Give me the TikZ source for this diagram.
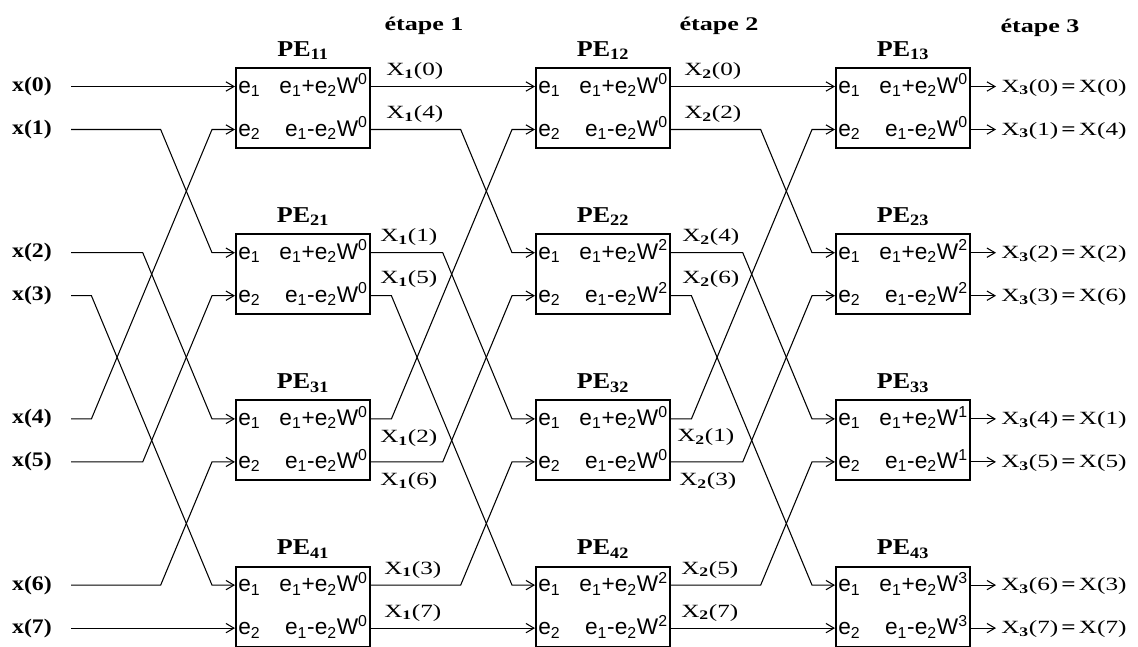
\documentclass[tikz,border=0pt]{standalone}
\usepackage{fontspec}
\setmainfont{Liberation Serif}
\newfontfamily\boxfont{Liberation Sans}
\newfontfamily\widefont[FakeStretch=1.35]{Liberation Serif}
\newfontfamily\midfont[FakeStretch=1.15]{Liberation Serif}
\usetikzlibrary{arrows.meta, positioning, calc}

\tikzset{
  pebox/.style={draw, line width=1.5pt, minimum width=100.5pt, minimum height=60pt, inner sep=0pt},
  wire/.style={line width=0.8pt},
  pelbl/.style={font=\fontsize{17}{17}\midfont\bfseries, inner sep=0pt, anchor=base},
  xlbl/.style={font=\fontsize{15.5}{16}\midfont\bfseries, inner sep=0pt, anchor=base east},
  Xlbl/.style={font=\fontsize{14}{15}\widefont, inner sep=0pt, anchor=base west},
  stagelbl/.style={font=\fontsize{14.5}{15}\widefont\bfseries, inner sep=0pt, anchor=base},
  etext/.style={font=\fontsize{17}{17}\boxfont, inner sep=0pt}
}

\begin{document}
\begin{tikzpicture}[x=0.75pt, y=-0.75pt, >={Straight Barb[length=6pt, width=7pt]}]

\useasboundingbox (0,0) rectangle (1138,646);
\clip (0,0) rectangle (1138,646);

% Stage titles
\node[stagelbl] (et1) at (424,31) {étape 1};
\node[stagelbl] (et2) at (719,31) {étape 2};
\node[stagelbl] (et3) at (1040,32) {étape 3};

% PE boxes with their ports
\foreach \s/\k/\w in {1/1/0, 1/2/0, 1/3/0, 1/4/0,
                      2/1/0, 2/2/2, 2/3/0, 2/4/2,
                      3/1/0, 3/2/2, 3/3/1, 3/4/3} {
  \pgfmathtruncatemacro\ra{2*\k-2}
  \pgfmathtruncatemacro\rb{2*\k-1}
  \node[pebox] (pe\k\s) at (303+300*\s-300, 108+166.2*\k-166.2) {};
  \node[pelbl] (pl\k\s) at ([yshift=8pt]pe\k\s.north) {PE\textsubscript{\k\s}};
  \coordinate (a\s\ra) at ($(pe\k\s.west)+(0,-21.5)$);
  \coordinate (a\s\rb) at ($(pe\k\s.west)+(0,21.5)$);
  \coordinate (b\s\ra) at ($(pe\k\s.east)+(0,-21.5)$);
  \coordinate (b\s\rb) at ($(pe\k\s.east)+(0,21.5)$);
  \node[etext, anchor=base west] (l\s\ra) at ($(a\s\ra)+(3,6.5)$) {e\textsubscript{1}};
  \node[etext, anchor=base west] (l\s\rb) at ($(a\s\rb)+(3,6.5)$) {e\textsubscript{2}};
  \node[etext, anchor=base east] (r\s\ra) at ($(b\s\ra)+(-3,6.5)$)
    {e\textsubscript{1}+e\textsubscript{2}W\textsuperscript{\w}};
  \node[etext, anchor=base east] (r\s\rb) at ($(b\s\rb)+(-3,6.5)$)
    {e\textsubscript{1}-e\textsubscript{2}W\textsuperscript{\w}};
}

% Inputs
\foreach \r in {0,...,7} {
  \coordinate (s0\r) at ($(a1\r)+(-164,0)$);
  \node[xlbl] (x\r) at ($(a1\r)+(-183,5)$) {x(\r)};
}

% Butterfly wiring between stages
\foreach \t/\src in {1/s0, 2/b1, 3/b2} {
  \foreach \d/\o in {0/0, 1/4, 2/1, 3/5, 4/2, 5/6, 6/3, 7/7} {
    \draw[wire, ->] let \p1=(\src\o), \p2=(a\t\d) in
      (\p1) -- ({\x2-17.25pt-abs(\y2-\y1)/2.4},\y1) -- ({\x2-17.25pt},\y2) -- (\p2);
  }
}

% Intermediate results
\foreach \r/\k/\dx/\dy in {0/0/15/-11, 1/4/15/-11, 2/1/9/-11, 3/5/9/-12,
                           4/2/9/24, 5/6/9/24, 6/3/13/-11, 7/7/13/-11} {
  \node[Xlbl] (m1\r) at ($(b1\r)+(\dx,\dy)$) {X\textsubscript{\bfseries 1}(\k)};
}
\foreach \r/\k/\dx/\dy in {0/0/13/-11, 1/2/13/-11, 2/4/11/-11, 3/6/11/-12,
                           4/1/6/23, 5/3/8/24, 6/5/10/-11, 7/7/10/-11} {
  \node[Xlbl] (m2\r) at ($(b2\r)+(\dx,\dy)$) {X\textsubscript{\bfseries 2}(\k)};
}

% Outputs
\foreach \r/\k in {0/0, 1/4, 2/2, 3/6, 4/1, 5/5, 6/3, 7/7} {
  \coordinate (c\r) at ($(b3\r)+(25,0)$);
  \draw[wire, ->] (b3\r) -- (c\r);
  \node[Xlbl] (o\r) at ($(b3\r)+(30,5.5)$)
    {X\textsubscript{\bfseries 3}(\r)\,{\bfseries =}\,X(\k)};
}

\end{tikzpicture}
\end{document}
